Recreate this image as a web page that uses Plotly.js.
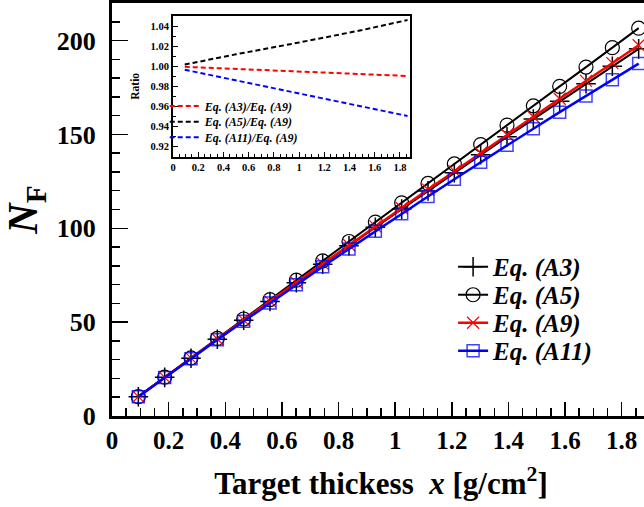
<!DOCTYPE html>
<html>
<head>
<meta charset="utf-8">
<script src="https://cdn.plot.ly/plotly-3.0.1.min.js"></script>
<style>
html,body{margin:0;padding:0;overflow:hidden;background:#fff;}
#chart{width:700px;height:507px;}
</style>
</head>
<body>
<div id="chart"></div>
<script>
// ---- data ----
const thickness = [0.093,0.186,0.279,0.372,0.465,0.558,0.651,0.744,0.837,0.930,1.023,1.116,1.209,1.302,1.395,1.488,1.581,1.674,1.767,1.860];
const eqA3  = [10.29,20.58,30.75,40.92,50.97,61.02,70.96,80.88,90.70,100.51,110.21,119.90,129.58,139.15,148.71,158.17,167.61,176.95,186.27,195.58];
const eqA5  = [10.32,20.68,31.00,41.36,51.66,62.02,72.33,82.66,92.96,103.29,113.57,123.90,134.27,144.58,154.94,165.25,175.59,185.87,196.22,206.59];
const eqA9  = [10.3,20.6,30.8,41.0,51.1,61.2,71.2,81.2,91.1,101.0,110.8,120.6,130.4,140.1,149.8,159.4,169.0,178.5,188.0,197.5];
const eqA11 = [10.26,20.48,30.54,40.56,50.43,60.24,69.92,79.54,89.01,98.44,107.73,116.97,126.15,135.20,144.19,153.05,161.87,170.52,179.15,187.72];

const ratioX     = [0.093,0.5,1.0,1.5,1.86];
const ratioA3A9  = [0.9994,0.9973,0.9947,0.9921,0.9903];
const ratioA5A9  = [1.0017,1.0119,1.0236,1.0360,1.0460];
const ratioA11A9 = [0.9965,0.9858,0.9733,0.9600,0.9505];

const mainNames  = ['Eq. (A3)','Eq. (A5)','Eq. (A9)','Eq. (A11)'];
const ratioNames = ['Eq. (A3)/Eq. (A9)','Eq. (A5)/Eq. (A9)','Eq. (A11)/Eq. (A9)'];

const FONT = "'Liberation Serif', 'Times New Roman', Times, serif";

const traces = [
  {x: thickness, y: eqA3, name: mainNames[0], mode:'lines+markers', legend:'legend',
   line:{color:'black',width:2},
   marker:{symbol:'cross-thin-open',size:14,color:'black',line:{color:'black',width:1.5}}},
  {x: thickness, y: eqA5, name: mainNames[1], mode:'lines+markers', legend:'legend2',
   line:{color:'black',width:2},
   marker:{symbol:'circle-open',size:14,color:'black',line:{color:'black',width:1.2}}},
  {x: thickness, y: eqA9, name: mainNames[2], mode:'lines+markers', legend:'legend3',
   line:{color:'red',width:2.5},
   marker:{symbol:'x-thin-open',size:12,color:'red',line:{color:'red',width:1.2}}},
  {x: thickness, y: eqA11, name: mainNames[3], mode:'lines+markers', legend:'legend4',
   line:{color:'blue',width:2.5},
   marker:{symbol:'square-open',size:12,color:'rgba(0,0,255,0.75)',line:{color:'rgba(0,0,255,0.75)',width:1.5}}},
  {x: ratioX, y: ratioA3A9, name: ratioNames[0], mode:'lines', xaxis:'x2', yaxis:'y2', legend:'legend5',
   line:{color:'red',width:2,dash:'5px,3px'}},
  {x: ratioX, y: ratioA5A9, name: ratioNames[1], mode:'lines', xaxis:'x2', yaxis:'y2', legend:'legend6',
   line:{color:'black',width:2,dash:'5px,3px'}},
  {x: ratioX, y: ratioA11A9, name: ratioNames[2], mode:'lines', xaxis:'x2', yaxis:'y2', legend:'legend7',
   line:{color:'blue',width:2,dash:'5px,3px'}}
];

function mainLegend(y){
  return {x:0.634, y:y, xanchor:'left', yanchor:'middle',
    bgcolor:'rgba(0,0,0,0)', borderwidth:0,
    font:{family:FONT, size:25, color:'black', weight:'bold', style:'italic'}};
}
function insetLegend(y){
  return {x:0.098, y:y, xanchor:'left', yanchor:'middle',
    bgcolor:'rgba(0,0,0,0)', borderwidth:0,
    font:{family:FONT, size:12, color:'black', weight:'bold', style:'italic'}};
}

const layout = {
  width:700, height:507,
  margin:{l:112, r:50, t:3, b:91},
  paper_bgcolor:'white', plot_bgcolor:'white',
  font:{family:FONT, color:'black'},
  showlegend:true,
  xaxis:{
    range:[0,1.9], dtick:0.2, tick0:0,
    showgrid:false, zeroline:false,
    showline:true, linewidth:3, linecolor:'black', mirror:true,
    ticks:'inside', ticklen:14, tickwidth:1.5, tickcolor:'black',
    minor:{dtick:0.05, ticks:'inside', ticklen:8, tickwidth:1.5, tickcolor:'black'},
    tickfont:{family:FONT, size:25, color:'black', weight:'bold'},
    title:{text:'Target thickess  <i>x</i> [g/cm<sup>2</sup>]', font:{family:FONT, size:31, weight:'bold'}, standoff:20}
  },
  yaxis:{
    range:[0,220], dtick:50, tick0:0,
    showgrid:false, zeroline:false,
    showline:true, linewidth:3, linecolor:'black', mirror:true,
    ticks:'inside', ticklen:16, tickwidth:1.5, tickcolor:'black',
    minor:{dtick:10, ticks:'inside', ticklen:8, tickwidth:1.5, tickcolor:'black'},
    tickfont:{family:FONT, size:26, color:'black', weight:'bold'},
    ticklabelstandoff:8,
    title:{text:'<i>N</i><sub>F</sub>', font:{family:FONT, size:42, weight:'bold'}, standoff:8}
  },
  xaxis2:{
    domain:[0.1134,0.554], anchor:'y2', range:[0,1.88], dtick:0.2, tick0:0,
    showgrid:false, zeroline:false,
    showline:true, linewidth:2, linecolor:'black', mirror:true,
    ticks:'inside', ticklen:5, tickwidth:1, tickcolor:'black',
    minor:{dtick:0.05, ticks:'inside', ticklen:3, tickwidth:1, tickcolor:'black'},
    tickfont:{family:FONT, size:10.5, color:'black', weight:'bold'}
  },
  yaxis2:{
    domain:[0.628,0.9685], anchor:'x2', range:[0.91,1.05], dtick:0.02, tick0:0.92,
    tickformat:'.2f',
    showgrid:false, zeroline:false,
    showline:true, linewidth:2, linecolor:'black', mirror:true,
    ticks:'inside', ticklen:5, tickwidth:1, tickcolor:'black',
    minor:{dtick:0.01, ticks:'inside', ticklen:3, tickwidth:1, tickcolor:'black'},
    tickfont:{family:FONT, size:10.5, color:'black', weight:'bold'},
    title:{text:'Ratio', font:{family:FONT, size:11.5, weight:'bold'}, standoff:8}
  },
  legend:  mainLegend(0.3608),
  legend2: mainLegend(0.2930),
  legend3: mainLegend(0.2252),
  legend4: mainLegend(0.1574),
  legend5: insetLegend(0.7506),
  legend6: insetLegend(0.7126),
  legend7: insetLegend(0.6748)
};

Plotly.newPlot('chart', traces, layout, {displayModeBar:false, staticPlot:true});
</script>
</body>
</html>
